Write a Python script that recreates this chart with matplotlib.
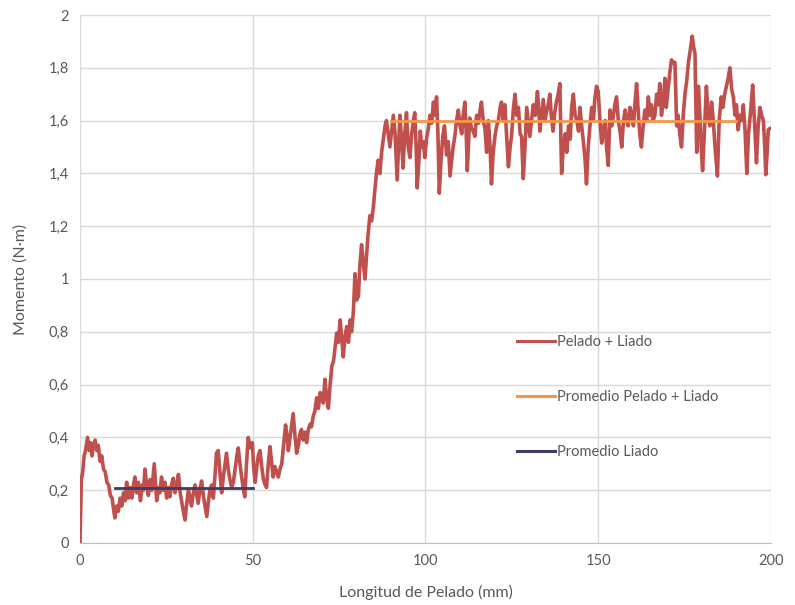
import matplotlib
matplotlib.use("Agg")
import matplotlib.pyplot as plt

plt.rcParams['font.family'] = ['Lato', 'DejaVu Sans']

longitud = [
    0.0, 0.2, 0.4, 0.8, 1.2, 1.6, 2.2, 2.7, 3.1, 3.5, 3.9, 4.4, 4.9, 5.3, 5.8, 6.3, 6.8, 7.3, 7.8, 8.3,
    8.8, 9.3, 9.7, 10.1, 10.6, 11.1, 11.6, 12.1, 12.6, 13.1, 13.5, 14.0, 14.5, 15.0, 15.5, 15.9, 16.4, 16.9, 17.5, 18.0,
    18.4, 18.8, 19.3, 19.8, 20.3, 20.8, 21.5, 22.2, 22.7, 23.1, 23.6, 24.1, 24.6, 25.1, 25.6, 26.0, 26.5, 27.0, 27.5, 28.0,
    28.5, 29.0, 29.4, 29.9, 30.4, 30.9, 31.4, 31.9, 32.3, 32.8, 33.3, 33.8, 34.2, 34.7, 35.2, 35.7, 36.2, 36.7, 37.2, 37.6,
    38.1, 38.6, 39.1, 39.5, 40.0, 40.5, 41.0, 41.5, 42.0, 42.4, 42.9, 43.4, 43.9, 44.4, 44.9, 45.4, 45.8, 46.3, 46.8, 47.2,
    47.7, 48.2, 48.7, 49.3, 49.9, 50.3, 50.7, 51.2, 51.6, 52.1, 52.6, 53.1, 53.6, 54.0, 54.5, 55.0, 55.5, 55.9, 56.4, 56.9,
    57.4, 57.9, 58.4, 59.0, 59.5, 60.0, 60.3, 60.8, 61.3, 61.7, 62.2, 62.7, 63.2, 63.6, 64.1, 64.6, 65.1, 65.6, 66.1, 66.6,
    67.0, 67.5, 68.0, 68.5, 69.0, 69.5, 70.0, 70.4, 70.9, 71.4, 71.9, 72.4, 72.9, 73.4, 73.9, 74.3, 74.8, 75.3, 75.8, 76.2,
    76.7, 77.2, 77.7, 78.2, 78.6, 79.1, 79.6, 80.1, 80.6, 81.0, 81.5, 82.0, 82.5, 83.0, 83.4, 83.9, 84.4, 84.9, 85.3, 85.8,
    86.3, 86.8, 87.3, 87.8, 88.3, 88.7, 89.2, 89.7, 90.2, 90.7, 91.2, 91.8, 92.2, 92.6, 93.1, 93.5, 94.0, 94.5, 95.0, 95.5,
    96.0, 96.5, 96.9, 97.3, 97.6, 98.1, 98.5, 98.9, 99.4, 99.8, 100.3, 100.8, 101.3, 101.8, 102.3, 102.7, 103.2, 103.6, 104.0, 104.5,
    105.0, 105.5, 106.1, 106.6, 107.1, 107.6, 108.0, 108.5, 109.0, 109.5, 110.0, 110.5, 110.9, 111.4, 111.8, 112.1, 112.5, 112.8, 113.3, 113.8,
    114.3, 114.8, 115.3, 115.8, 116.2, 116.7, 117.2, 117.7, 118.2, 118.7, 119.1, 119.6, 120.1, 120.6, 121.1, 121.6, 122.0, 122.5, 123.0, 123.4,
    124.0, 124.5, 124.9, 125.4, 125.9, 126.4, 126.9, 127.4, 127.8, 128.3, 128.8, 129.3, 129.8, 130.2, 130.7, 131.2, 131.8, 132.4, 132.8, 133.1,
    133.6, 134.1, 134.6, 135.0, 135.5, 136.0, 136.4, 136.9, 137.4, 137.9, 138.4, 138.9, 139.2, 139.4, 139.9, 140.4, 140.9, 141.4, 141.9, 142.3,
    142.8, 143.3, 143.8, 144.3, 144.7, 145.2, 145.7, 146.2, 146.6, 147.1, 147.6, 148.1, 148.6, 149.0, 149.5, 150.0, 150.5, 151.0, 151.5, 152.0,
    152.4, 152.9, 153.4, 153.9, 154.4, 154.8, 155.3, 155.8, 156.3, 156.8, 157.3, 157.8, 158.2, 158.7, 159.2, 159.7, 160.2, 160.6, 161.1, 161.6,
    162.0, 162.5, 163.0, 163.5, 164.0, 164.5, 165.0, 165.4, 165.9, 166.4, 166.9, 167.4, 167.8, 168.3, 168.8, 169.3, 169.7, 170.2, 170.7, 171.2,
    171.7, 172.2, 172.7, 173.1, 173.6, 174.1, 174.6, 175.1, 175.6, 176.1, 176.5, 177.2, 177.6, 178.0, 178.5, 179.0, 179.5, 179.8, 180.2, 180.7,
    181.3, 181.8, 182.3, 182.8, 183.3, 183.8, 184.5, 185.0, 185.6, 186.1, 186.6, 187.1, 187.6, 188.1, 188.6, 189.1, 189.6, 190.0, 190.5, 191.0,
    191.5, 192.0, 192.5, 193.0, 193.5, 194.2, 194.7, 195.2, 195.8, 196.3, 196.8, 197.3, 197.8, 198.2, 198.5, 198.9, 199.2, 199.7,
]
momento = [
    0.00, 0.12, 0.24, 0.27, 0.33, 0.35, 0.40, 0.35, 0.38, 0.33, 0.37, 0.39, 0.35, 0.37, 0.31, 0.33, 0.28, 0.27, 0.23, 0.22,
    0.18, 0.17, 0.13, 0.095, 0.14, 0.12, 0.17, 0.14, 0.19, 0.16, 0.23, 0.17, 0.21, 0.17, 0.22, 0.25, 0.19, 0.23, 0.16, 0.22,
    0.20, 0.28, 0.22, 0.18, 0.24, 0.20, 0.30, 0.16, 0.21, 0.19, 0.25, 0.20, 0.23, 0.17, 0.21, 0.175, 0.22, 0.245, 0.19, 0.22,
    0.26, 0.19, 0.16, 0.12, 0.087, 0.15, 0.20, 0.16, 0.14, 0.19, 0.22, 0.18, 0.15, 0.20, 0.235, 0.18, 0.14, 0.10, 0.16, 0.20,
    0.22, 0.17, 0.26, 0.34, 0.35, 0.27, 0.19, 0.25, 0.30, 0.34, 0.28, 0.24, 0.21, 0.23, 0.28, 0.33, 0.36, 0.30, 0.25, 0.21,
    0.175, 0.30, 0.40, 0.36, 0.38, 0.28, 0.23, 0.29, 0.33, 0.35, 0.29, 0.24, 0.22, 0.21, 0.30, 0.365, 0.30, 0.25, 0.29, 0.27,
    0.25, 0.28, 0.30, 0.38, 0.447, 0.40, 0.35, 0.40, 0.45, 0.49, 0.41, 0.34, 0.37, 0.41, 0.43, 0.39, 0.42, 0.38, 0.43, 0.45,
    0.44, 0.48, 0.50, 0.55, 0.51, 0.57, 0.56, 0.53, 0.62, 0.55, 0.51, 0.60, 0.67, 0.69, 0.75, 0.795, 0.76, 0.845, 0.77, 0.705,
    0.78, 0.82, 0.76, 0.845, 0.80, 0.87, 1.02, 0.92, 0.935, 1.05, 1.13, 1.06, 1.00, 1.10, 1.17, 1.24, 1.22, 1.27, 1.33, 1.40,
    1.45, 1.40, 1.48, 1.53, 1.58, 1.60, 1.55, 1.50, 1.56, 1.62, 1.55, 1.375, 1.50, 1.62, 1.52, 1.42, 1.55, 1.63, 1.50, 1.46,
    1.55, 1.60, 1.63, 1.50, 1.345, 1.45, 1.56, 1.50, 1.52, 1.46, 1.53, 1.57, 1.62, 1.59, 1.67, 1.62, 1.69, 1.55, 1.325, 1.45,
    1.54, 1.58, 1.47, 1.52, 1.39, 1.45, 1.50, 1.54, 1.60, 1.64, 1.58, 1.55, 1.62, 1.67, 1.55, 1.41, 1.52, 1.61, 1.57, 1.56,
    1.54, 1.62, 1.59, 1.64, 1.67, 1.60, 1.57, 1.48, 1.60, 1.50, 1.36, 1.48, 1.54, 1.58, 1.60, 1.65, 1.67, 1.60, 1.66, 1.56,
    1.425, 1.50, 1.54, 1.64, 1.70, 1.62, 1.65, 1.55, 1.54, 1.38, 1.50, 1.65, 1.59, 1.54, 1.60, 1.66, 1.62, 1.71, 1.64, 1.56,
    1.62, 1.68, 1.60, 1.63, 1.66, 1.70, 1.62, 1.56, 1.63, 1.67, 1.70, 1.74, 1.52, 1.40, 1.50, 1.55, 1.48, 1.58, 1.53, 1.65,
    1.70, 1.62, 1.60, 1.56, 1.65, 1.58, 1.52, 1.45, 1.36, 1.50, 1.58, 1.65, 1.60, 1.68, 1.73, 1.71, 1.60, 1.515, 1.57, 1.60,
    1.50, 1.43, 1.64, 1.58, 1.62, 1.66, 1.69, 1.60, 1.56, 1.50, 1.60, 1.64, 1.60, 1.58, 1.65, 1.62, 1.58, 1.66, 1.74, 1.63,
    1.55, 1.50, 1.58, 1.64, 1.60, 1.69, 1.62, 1.66, 1.60, 1.62, 1.70, 1.66, 1.74, 1.62, 1.67, 1.76, 1.65, 1.72, 1.78, 1.83,
    1.82, 1.82, 1.58, 1.62, 1.55, 1.50, 1.62, 1.70, 1.75, 1.82, 1.855, 1.92, 1.88, 1.855, 1.48, 1.73, 1.60, 1.50, 1.41, 1.55,
    1.73, 1.62, 1.58, 1.67, 1.60, 1.50, 1.39, 1.60, 1.69, 1.65, 1.70, 1.73, 1.76, 1.80, 1.72, 1.69, 1.62, 1.66, 1.565, 1.62,
    1.60, 1.66, 1.56, 1.40, 1.55, 1.65, 1.735, 1.60, 1.44, 1.58, 1.65, 1.62, 1.60, 1.50, 1.395, 1.48, 1.565, 1.57,
]

# promedios
prom_total_x = [90.0, 190.0]
prom_total_y = [1.598, 1.598]
prom_liado_x = [10.0, 50.0]
prom_liado_y = [0.207, 0.207]

y_ticks = [0, 0.2, 0.4, 0.6, 0.8, 1.0, 1.2, 1.4, 1.6, 1.8, 2.0]
y_labels = ["0", "0,2", "0,4", "0,6", "0,8", "1", "1,2", "1,4", "1,6", "1,8", "2"]
x_ticks = [0, 50, 100, 150, 200]

gris = "#595959"

fig = plt.figure(figsize=(7.95, 6.05), dpi=100)
ax = fig.add_axes([0.1006, 0.1025, 0.8692, 0.8727])

ax.plot(longitud, momento, color="#c0504d", lw=2.6, label="Pelado + Liado", zorder=3)
ax.plot(prom_total_x, prom_total_y, color="#f79646", lw=2.0, label="Promedio Pelado + Liado", zorder=4)
ax.plot(prom_liado_x, prom_liado_y, color="#403a66", lw=2.0, label="Promedio Liado", zorder=4)

ax.set_xlim(0, 200)
ax.set_ylim(0, 2)
ax.set_xticks(x_ticks)
ax.set_yticks(y_ticks)
ax.set_yticklabels(y_labels)
ax.grid(True, color="#d9d9d9", lw=1.0)
ax.set_axisbelow(True)
for s in ["top", "right", "left"]:
    ax.spines[s].set_visible(False)
ax.spines["bottom"].set_color("#bfbfbf")
ax.tick_params(length=0, labelsize=10.5, colors=gris, pad=8)

ax.set_xlabel("Longitud de Pelado (mm)", fontsize=11.5, color=gris, labelpad=12)
ax.set_ylabel("Momento (N·m)", fontsize=11.5, color=gris, labelpad=15)

leg = fig.legend(loc="upper left", bbox_to_anchor=(0.634, 0.468), frameon=False,
                 fontsize=10.5, labelcolor=gris, handlelength=2.6, handletextpad=0.1,
                 labelspacing=2.8)
for h in leg.legend_handles:
    h.set_linewidth(2.2)

fig.savefig("out.png", dpi=100)
